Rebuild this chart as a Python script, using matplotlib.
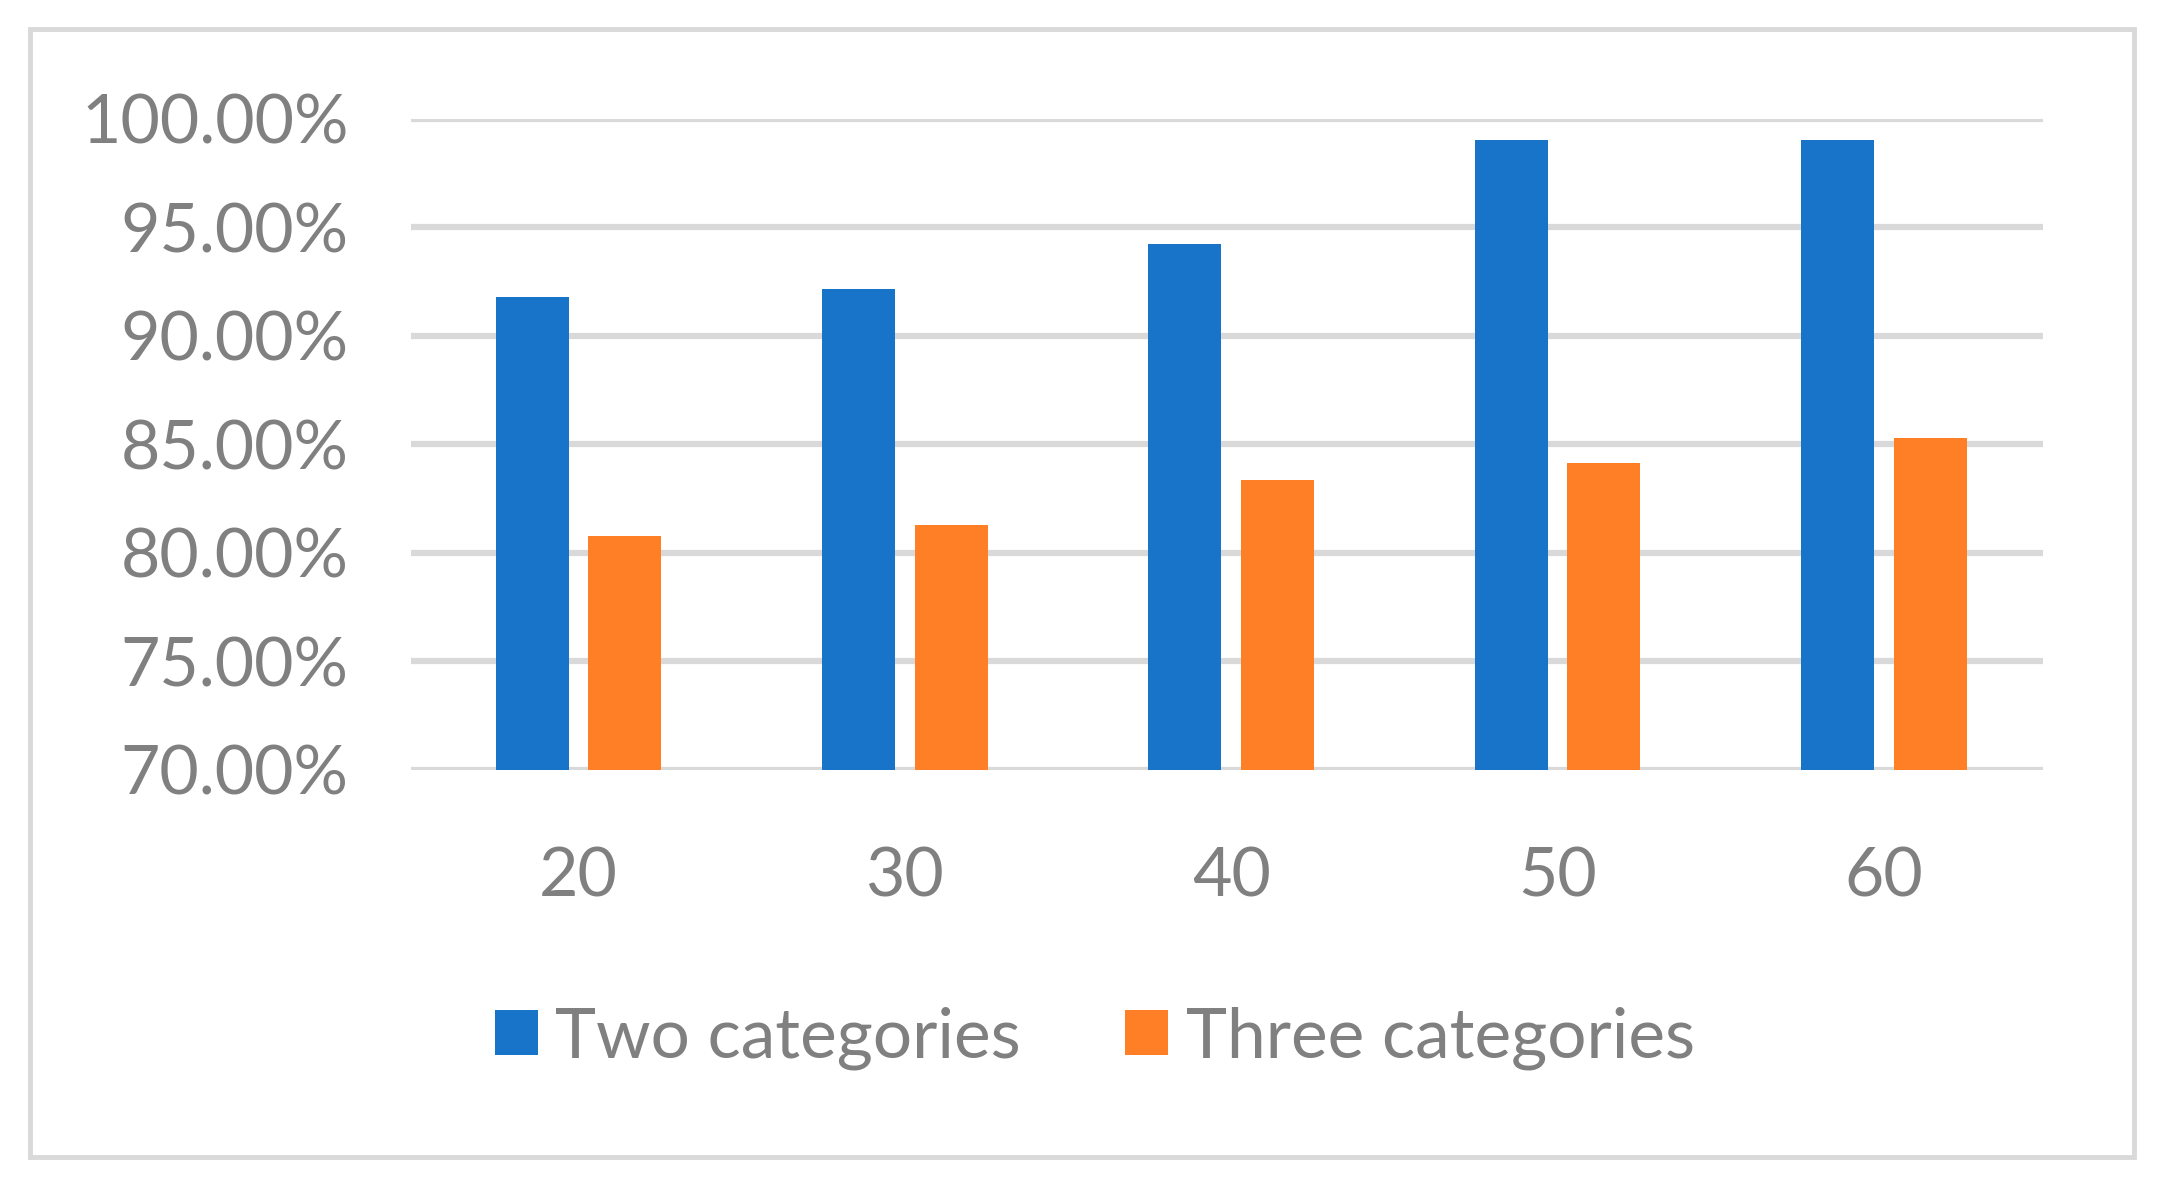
import numpy as np
import matplotlib
matplotlib.use("Agg")
import matplotlib.pyplot as plt
from matplotlib.patches import Rectangle
from matplotlib.ticker import FuncFormatter

# values
categories = ["20", "30", "40", "50", "60"]
two_categories = [91.77, 92.17, 94.23, 99.0, 99.0]
three_categories = [80.77, 81.27, 83.33, 84.11, 85.30]
y_ticks = [70, 75, 80, 85, 90, 95, 100]

blue = "#1874c8"
orange = "#fe7f26"
grey_text = "#808080"
grid_grey = "#d9d9d9"

plt.rcParams['font.family'] = ['Lato', 'DejaVu Sans']

fig = plt.figure(figsize=(21.64, 11.86), dpi=100)
ax = fig.add_axes([0.190, 0.351, 0.754, 0.549])

x = np.arange(len(categories))
width = 0.224
ax.bar(x - 0.129, two_categories, width, color=blue, label="Two categories", zorder=3)
ax.bar(x + 0.155, three_categories, width, color=orange, label="Three categories", zorder=3)

ax.set_xlim(-0.5, len(categories) - 0.5)
ax.set_ylim(70, 100)
ax.set_yticks(y_ticks)
ax.yaxis.set_major_formatter(FuncFormatter(lambda v, p: "%.2f%%" % v))
ax.set_xticks(x + 0.013)
ax.set_xticklabels(categories)

ax.grid(axis="y", color=grid_grey, linewidth=4.5, zorder=0)
ax.set_axisbelow(True)
for s in ax.spines.values():
    s.set_visible(False)
ax.tick_params(axis="both", length=0, labelsize=49, colors=grey_text)
ax.tick_params(axis="y", pad=45)
ax.tick_params(axis="x", pad=55)

leg = fig.legend(loc="center", bbox_to_anchor=(0.506, 0.125), ncol=2, frameon=False,
                 fontsize=50, handlelength=0.62, handleheight=0.62,
                 handletextpad=0.25, columnspacing=1.5)
for t in leg.get_texts():
    t.set_color(grey_text)

# light grey frame around the whole chart
fig.patches.append(Rectangle((0.0138, 0.0245), 0.9723, 0.951, transform=fig.transFigure,
                             fill=False, edgecolor=grid_grey, linewidth=3.5))

fig.savefig("out.png", dpi=100, facecolor="white")
